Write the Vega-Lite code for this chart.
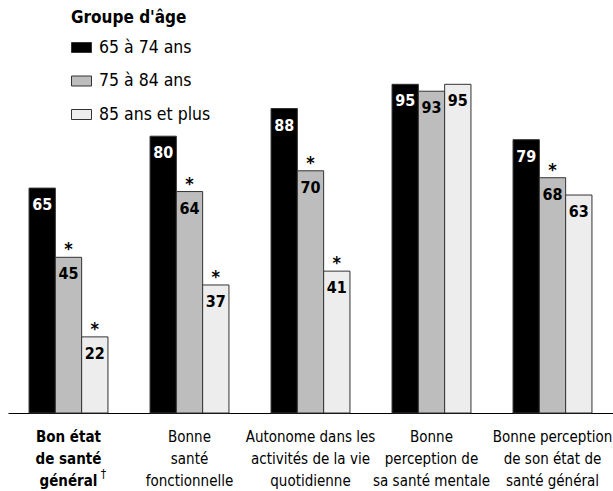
{
  "$schema": "https://vega.github.io/schema/vega-lite/v6.json",
  "width": 605,
  "height": 346,
  "autosize": {"type": "none"},
  "padding": {"left": 8, "top": 67, "right": 0, "bottom": 78},
  "config": {
    "view": {"stroke": null},
    "font": "DejaVu Sans Condensed"
  },
  "data": {
    "values": [
      {"cat": "Bon état|de santé|général", "group": "65 à 74 ans", "value": 65, "star": ""},
      {"cat": "Bon état|de santé|général", "group": "75 à 84 ans", "value": 45, "star": "*"},
      {"cat": "Bon état|de santé|général", "group": "85 ans et plus", "value": 22, "star": "*"},
      {"cat": "Bonne|santé|fonctionnelle", "group": "65 à 74 ans", "value": 80, "star": ""},
      {"cat": "Bonne|santé|fonctionnelle", "group": "75 à 84 ans", "value": 64, "star": "*"},
      {"cat": "Bonne|santé|fonctionnelle", "group": "85 ans et plus", "value": 37, "star": "*"},
      {"cat": "Autonome dans les|activités de la vie|quotidienne", "group": "65 à 74 ans", "value": 88, "star": ""},
      {"cat": "Autonome dans les|activités de la vie|quotidienne", "group": "75 à 84 ans", "value": 70, "star": "*"},
      {"cat": "Autonome dans les|activités de la vie|quotidienne", "group": "85 ans et plus", "value": 41, "star": "*"},
      {"cat": "Bonne|perception de|sa santé mentale", "group": "65 à 74 ans", "value": 95, "star": ""},
      {"cat": "Bonne|perception de|sa santé mentale", "group": "75 à 84 ans", "value": 93, "star": ""},
      {"cat": "Bonne|perception de|sa santé mentale", "group": "85 ans et plus", "value": 95, "star": ""},
      {"cat": "Bonne perception|de son état de|santé général", "group": "65 à 74 ans", "value": 79, "star": ""},
      {"cat": "Bonne perception|de son état de|santé général", "group": "75 à 84 ans", "value": 68, "star": "*"},
      {"cat": "Bonne perception|de son état de|santé général", "group": "85 ans et plus", "value": 63, "star": ""}
    ]
  },
  "encoding": {
    "x": {
      "field": "cat",
      "type": "nominal",
      "sort": null,
      "scale": {"paddingInner": 0, "paddingOuter": 0},
      "axis": {
        "title": null,
        "labelAngle": 0,
        "labelExpr": "split(datum.label, '|')",
        "labelFontSize": 15,
        "labelLineHeight": 22,
        "labelColor": "black",
        "labelPadding": 16,
        "labelFontWeight": {"condition": {"test": "indexof(datum.label, 'Bon état') == 0", "value": "bold"}, "value": "normal"},
        "ticks": false,
        "domainColor": "black",
        "domainWidth": 1,
        "labelLimit": 200
      }
    },
    "xOffset": {
      "field": "group",
      "type": "nominal",
      "sort": ["65 à 74 ans", "75 à 84 ans", "85 ans et plus"],
      "scale": {"paddingInner": 0, "paddingOuter": 0.8}
    },
    "y": {
      "field": "value",
      "type": "quantitative",
      "scale": {"domain": [0, 100], "nice": false},
      "axis": null
    }
  },
  "layer": [
    {
      "mark": {"type": "bar", "stroke": "#333333", "strokeWidth": 1},
      "encoding": {
        "color": {
          "field": "group",
          "type": "nominal",
          "scale": {"domain": ["65 à 74 ans", "75 à 84 ans", "85 ans et plus"], "range": ["#000000", "#bdbdbd", "#ededed"]},
          "legend": {
            "title": "Groupe d'âge",
            "orient": "none",
            "legendX": 63,
            "legendY": -57,
            "titleFontSize": 17,
            "titleFontWeight": "bold",
            "titleColor": "black",
            "titlePadding": 10,
            "labelFontSize": 17.5,
            "labelColor": "black",
            "labelOffset": 7,
            "rowPadding": 14.5,
            "symbolType": "M-1,-0.5H1V0.5H-1Z",
            "symbolSize": 400,
            "symbolStrokeColor": "#333333",
            "symbolStrokeWidth": 1,
            "symbolOpacity": 1
          }
        }
      }
    },
    {
      "mark": {"type": "text", "dy": 17, "fontSize": 16, "fontWeight": "bold"},
      "encoding": {
        "text": {"field": "value", "type": "quantitative"},
        "color": {
          "condition": {"test": "datum.group == '65 à 74 ans'", "value": "white"},
          "value": "black"
        }
      }
    },
    {
      "mark": {"type": "text", "dy": -7, "fontSize": 18, "fontWeight": "bold", "color": "black"},
      "encoding": {
        "text": {"field": "star", "type": "nominal"}
      }
    },
    {
      "data": {"values": [{"cat": "Bon état|de santé|général", "mark": "†", "pos": -17.5}]},
      "mark": {"type": "text", "dx": 35, "fontSize": 12, "color": "black"},
      "encoding": {
        "xOffset": null,
        "text": {"field": "mark", "type": "nominal"},
        "y": {"field": "pos", "type": "quantitative"}
      }
    }
  ]
}
